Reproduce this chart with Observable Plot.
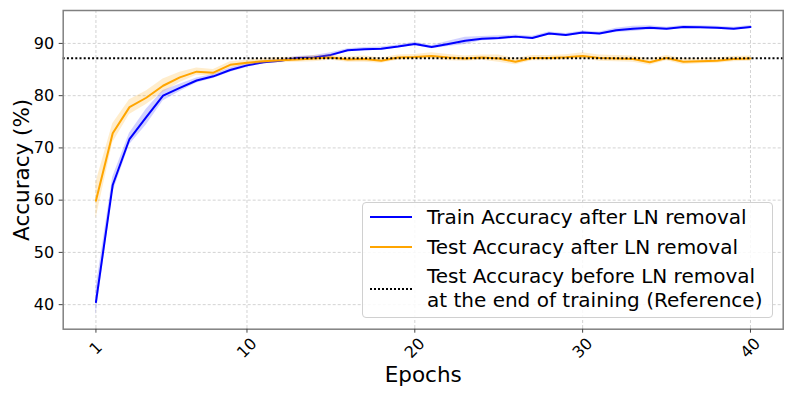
<!DOCTYPE html>
<html>
<head>
<meta charset="utf-8">
<script src="https://cdn.jsdelivr.net/npm/d3@7"></script>
<script src="https://cdn.jsdelivr.net/npm/@observablehq/plot@0.6"></script>
<style>
  html, body { margin: 0; padding: 0; background: white; }
  #wrap { position: relative; width: 793px; height: 397px; font-family: "DejaVu Sans", sans-serif; }
  #legend { position: absolute; left: 362px; top: 202px; width: 409px; height: 114px;
            background: rgba(255,255,255,0.85); border: 1px solid #d0d0d0; border-radius: 4px; }
  .lg-text { position: absolute; left: 64px; font-size: 20px; line-height: 23.5px; height: 23.5px; color: black; white-space: nowrap; }
  .lg-swatch { position: absolute; left: 7px; width: 42px; height: 0; }
</style>
</head>
<body>
<div id="wrap">
  <div id="chart"></div>
  <div id="legend"></div>
</div>
<script>
// ---- data ----
const epochs = d3.range(1, 41);
const trainMean = [40.5, 62.9, 71.7, 75.9, 80.0, 81.5, 82.9, 83.7, 84.9, 85.8,
                   86.4, 86.7, 87.2, 87.3, 87.8, 88.7, 88.9, 89.0, 89.4, 89.9,
                   89.3, 89.9, 90.5, 90.9, 91.05, 91.3, 91.05, 91.9, 91.6, 92.1,
                   91.9, 92.5, 92.8, 93.0, 92.8, 93.15, 93.1, 93.0, 92.8, 93.15];
const trainStd  = [2.6, 1.5, 1.1, 1.5, 1.0, 0.7, 0.5, 0.4, 0.4, 0.4,
                   0.3, 0.3, 0.3, 0.4, 0.4, 0.3, 0.3, 0.3, 0.3, 0.3,
                   0.3, 0.5, 0.7, 0.4, 0.4, 0.3, 0.3, 0.3, 0.3, 0.3,
                   0.3, 0.4, 0.5, 0.4, 0.3, 0.3, 0.3, 0.3, 0.3, 0.3];
const testMean  = [59.9, 72.8, 77.8, 79.6, 81.9, 83.5, 84.6, 84.4, 85.9, 86.3,
                   86.6, 86.8, 86.9, 87.1, 87.3, 86.9, 87.0, 86.7, 87.3, 87.4,
                   87.6, 87.3, 87.1, 87.3, 87.1, 86.5, 87.2, 87.2, 87.35, 87.6,
                   87.2, 87.1, 87.0, 86.4, 87.2, 86.5, 86.6, 86.7, 87.0, 87.1];
const testStd   = [3.5, 1.8, 1.4, 1.3, 1.3, 1.0, 0.7, 0.6, 0.6, 0.5,
                   0.5, 0.5, 0.5, 0.6, 0.5, 0.5, 0.6, 0.5, 0.5, 0.5,
                   0.6, 0.6, 0.5, 0.5, 0.7, 0.6, 0.5, 0.5, 0.5, 0.6,
                   0.6, 0.6, 0.6, 0.6, 0.5, 0.6, 0.5, 0.5, 0.5, 0.5];
const refAcc = 87.15;
const xTicks = [1, 10, 20, 30, 40];
const yTicks = [40, 50, 60, 70, 80, 90];
const seriesNames = ["Train Accuracy after LN removal", "Test Accuracy after LN removal"];
const refName = ["Test Accuracy before LN removal", "at the end of training (Reference)"];
const xLabel = "Epochs";
const yLabel = "Accuracy (%)";

// ---- table ----
const rows = epochs.flatMap((e, i) => [
  {epoch: e, series: "train", mean: trainMean[i], lo: trainMean[i] - trainStd[i], hi: trainMean[i] + trainStd[i]},
  {epoch: e, series: "test",  mean: testMean[i],  lo: testMean[i] - testStd[i],   hi: testMean[i] + testStd[i]}
]);
const train = rows.filter(d => d.series === "train");
const test = rows.filter(d => d.series === "test");
const BLUE = "#0000ff", ORANGE = "#ffa500";

const chart = Plot.plot({
  width: 793,
  height: 397,
  marginLeft: 62.7,
  marginRight: 10.3,
  marginTop: 10,
  marginBottom: 68.3,
  style: {fontFamily: "DejaVu Sans", fontSize: "16px", color: "black", background: "white", overflow: "visible"},
  x: {domain: [-0.95, 41.95], label: null},
  y: {domain: [35.3, 96.3], label: null},
  marks: [
    Plot.gridX(xTicks, {stroke: "#b0b0b0", strokeOpacity: 0.7, strokeWidth: 0.8, strokeDasharray: "3,2"}),
    Plot.gridY(yTicks, {stroke: "#b0b0b0", strokeOpacity: 0.7, strokeWidth: 0.8, strokeDasharray: "3,2"}),
    Plot.areaY(train, {x: "epoch", y1: "lo", y2: "hi", fill: BLUE, fillOpacity: 0.18}),
    Plot.lineY(train, {x: "epoch", y: "mean", stroke: BLUE, strokeWidth: 2}),
    Plot.areaY(test, {x: "epoch", y1: "lo", y2: "hi", fill: ORANGE, fillOpacity: 0.2}),
    Plot.lineY(test, {x: "epoch", y: "mean", stroke: ORANGE, strokeWidth: 2}),
    Plot.ruleY([refAcc], {stroke: "black", strokeWidth: 2, strokeDasharray: "2,2.2"}),
    Plot.frame({stroke: "#808080", strokeWidth: 1.5}),
    Plot.axisY(yTicks, {tickSize: 4, tickPadding: 5, fontSize: 16, stroke: "#444", label: null}),
    Plot.axisX(xTicks, {tickSize: 4, tickPadding: 15, tickRotate: -45, textAnchor: "middle", lineAnchor: "middle",
                        fontSize: 16, stroke: "#444", label: null}),
    Plot.text([yLabel], {frameAnchor: "left", rotate: -90, dx: -40.7, fontSize: 21.5, lineAnchor: "middle", textAnchor: "middle"}),
    Plot.text([xLabel], {frameAnchor: "bottom", dy: 46.3, fontSize: 21.5, lineAnchor: "middle", textAnchor: "middle"})
  ]
});
document.getElementById("chart").appendChild(chart);

// ---- legend (overlay) ----
const legend = document.getElementById("legend");
function addText(str, top) {
  const t = document.createElement("div");
  t.className = "lg-text";
  t.style.top = top + "px";
  t.textContent = str;
  legend.appendChild(t);
}
function addSwatch(swatchTop, style) {
  const s = document.createElement("div");
  s.className = "lg-swatch";
  s.style.top = swatchTop + "px";
  s.style.borderTop = style;
  legend.appendChild(s);
}
addText(seriesNames[0], 2.5);
addSwatch(13.3, "2px solid " + BLUE);
addText(seriesNames[1], 32.5);
addSwatch(43.3, "2px solid " + ORANGE);
addText(refName[0], 62.2);
addText(refName[1], 85.7);
addSwatch(84.8, "2px dotted black");
</script>
</body>
</html>
